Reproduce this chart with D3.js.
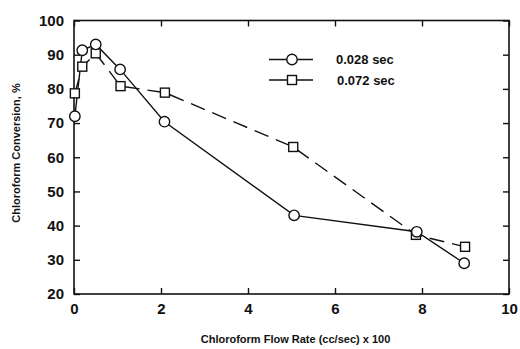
<!DOCTYPE html>
<html>
<head>
<meta charset="utf-8">
<script src="https://cdn.jsdelivr.net/npm/d3@7"></script>
<style>
  body { margin: 0; background: #fff; }
  svg text { font-family: "Liberation Sans", Arial, sans-serif; font-weight: bold; fill: #111; }
</style>
</head>
<body>
<svg></svg>
<script>
// chart size
let width = 520
let height = 349

// data
const flowRate028 = [0.02, 0.19, 0.5, 1.06, 2.08, 5.06, 7.88, 8.97]
const conv028 = [72, 91.3, 93, 85.7, 70.4, 43, 38.2, 29]
const flowRate072 = [0.02, 0.19, 0.5, 1.07, 2.09, 5.04, 7.86, 8.99]
const conv072 = [78.7, 86.5, 90.4, 80.8, 78.9, 63, 37.3, 33.8]
const seriesNames = ['0.028 sec', '0.072 sec']
const xTicks = [0, 2, 4, 6, 8, 10]
const yTicks = [20, 30, 40, 50, 60, 70, 80, 90, 100]

let svg = d3.select('svg').attr('width', width).attr('height', height)

// plot area
let plotLeft = 74, plotRight = 509, plotTop = 20.5, plotBottom = 294

let xScale = d3.scaleLinear().domain([0, 10]).range([plotLeft, plotRight])
let yScale = d3.scaleLinear().domain([20, 100]).range([plotBottom, plotTop])

// frame
svg.append('rect')
   .attr('x', plotLeft).attr('y', plotTop)
   .attr('width', plotRight - plotLeft).attr('height', plotBottom - plotTop)
   .attr('fill', 'none').attr('stroke', '#111').attr('stroke-width', 1.6)

// axes with inward ticks
let tickLen = 6
svg.append('g')
   .attr('transform', 'translate(0,' + plotBottom + ')')
   .call(d3.axisBottom(xScale).tickValues(xTicks).tickSize(-tickLen).tickPadding(9).tickFormat(d3.format('d')))
   .call(g => g.select('.domain').remove())
svg.append('g')
   .attr('transform', 'translate(0,' + plotTop + ')')
   .call(d3.axisTop(xScale).tickValues(xTicks).tickSize(-tickLen).tickFormat(''))
   .call(g => g.select('.domain').remove())
svg.append('g')
   .attr('transform', 'translate(' + plotLeft + ',0)')
   .call(d3.axisLeft(yScale).tickValues(yTicks).tickSize(-tickLen).tickPadding(10).tickFormat(d3.format('d')))
   .call(g => g.select('.domain').remove())
svg.append('g')
   .attr('transform', 'translate(' + plotRight + ',0)')
   .call(d3.axisRight(yScale).tickValues(yTicks).tickSize(-tickLen).tickFormat(''))
   .call(g => g.select('.domain').remove())

svg.selectAll('.tick line').attr('stroke', '#111').attr('stroke-width', 1.4)
svg.selectAll('.tick text')
   .style('font-family', '"Liberation Sans", Arial, sans-serif')
   .style('font-weight', 'bold').style('font-size', '15px').attr('fill', '#111')

// axis titles
svg.append('text')
   .attr('x', (plotLeft + plotRight) / 2 + 4).attr('y', 343)
   .attr('text-anchor', 'middle').style('font-size', '11px')
   .text('Chloroform Flow Rate (cc/sec) x 100')
svg.append('text')
   .attr('transform', 'translate(20,' + 153 + ') rotate(-90)')
   .attr('text-anchor', 'middle').style('font-size', '11px')
   .text('Chloroform Conversion, %')

// lines
let line = d3.line().x(d => xScale(d[0])).y(d => yScale(d[1]))
let pts028 = flowRate028.map((x, i) => [x, conv028[i]])
let pts072 = flowRate072.map((x, i) => [x, conv072[i]])

svg.append('path').datum(pts072).attr('d', line)
   .attr('fill', 'none').attr('stroke', '#111').attr('stroke-width', 1.4)
   .attr('stroke-dasharray', '15,8')
svg.append('path').datum(pts028).attr('d', line)
   .attr('fill', 'none').attr('stroke', '#111').attr('stroke-width', 1.4)

// markers
let sq = 9
svg.selectAll('.sq').data(pts072).enter().append('rect')
   .attr('class', 'sq')
   .attr('x', d => xScale(d[0]) - sq / 2).attr('y', d => yScale(d[1]) - sq / 2)
   .attr('width', sq).attr('height', sq)
   .attr('fill', '#fff').attr('stroke', '#111').attr('stroke-width', 1.4)
svg.selectAll('.ci').data(pts028).enter().append('circle')
   .attr('class', 'ci')
   .attr('cx', d => xScale(d[0])).attr('cy', d => yScale(d[1])).attr('r', 5.2)
   .attr('fill', '#fff').attr('stroke', '#111').attr('stroke-width', 1.4)

// legend
let legX1 = 269, legX2 = 313, legMid = 292
let legend = svg.append('g')
seriesNames.forEach((name, i) => {
    let y = 59.5 + i * 20.5
    legend.append('line').attr('x1', legX1).attr('x2', legX2).attr('y1', y).attr('y2', y)
          .attr('stroke', '#111').attr('stroke-width', 1.3)
    if (i === 0) {
        legend.append('circle').attr('cx', legMid).attr('cy', y).attr('r', 5.2)
              .attr('fill', '#fff').attr('stroke', '#111').attr('stroke-width', 1.4)
    } else {
        legend.append('rect').attr('x', legMid - sq / 2).attr('y', y - sq / 2)
              .attr('width', sq).attr('height', sq)
              .attr('fill', '#fff').attr('stroke', '#111').attr('stroke-width', 1.4)
    }
    legend.append('text').attr('x', 336 + i).attr('y', y + 4.5)
          .style('font-size', '13px').text(name)
})
</script>
</body>
</html>
